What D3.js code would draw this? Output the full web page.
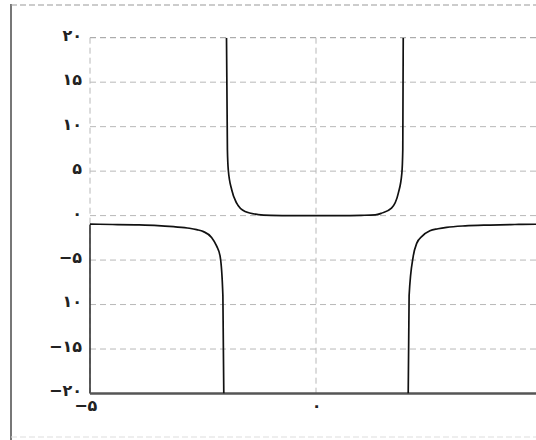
<!DOCTYPE html>
<html>
<head>
<meta charset="utf-8">
<script src="https://cdn.jsdelivr.net/npm/d3@7"></script>
<style>
  html, body { margin: 0; padding: 0; background: #fff; }
  svg { display: block; }
  .tick text { font-family: "DejaVu Sans", sans-serif; font-weight: bold; font-size: 16px; fill: #222; }
</style>
</head>
<body>
<svg id="chart" width="536" height="440"></svg>
<script>
// Tick values and their Persian labels
const xTicks = [-5, 0, 5];
const xLabelTicks = [-5, 0];
const xTickLabels = ["−۵", "۰"];
const yTicks = [20, 15, 10, 5, 0, -5, -10, -15, -20];
const yTickLabels = ["۲۰", "۱۵", "۱۰", "۵", "۰", "−۵", "۱۰", "−۱۵", "−۲۰"];

// Curve branches, separated by the vertical asymptotes near x = ±2
const leftX  = [-5, -4.5, -4, -3.5, -3.15, -2.8, -2.64, -2.49, -2.31, -2.2, -2.12, -2.06, -2.04];
const leftY  = [-0.95, -1.0, -1.04, -1.12, -1.25, -1.42, -1.58, -1.8, -2.45, -3.4, -4.6, -9.0, -20];

const midX   = [-1.98, -1.96, -1.94, -1.865, -1.755, -1.57, -1.28, -1.0, -0.5, 0, 0.5, 1.0, 1.31, 1.45, 1.67, 1.82, 1.90, 1.92, 1.93];
const midY   = [20, 7.4, 5.1, 2.9, 1.39, 0.45, 0.12, 0.03, 0, 0, 0, 0.03, 0.08, 0.27, 0.83, 2.5, 4.8, 7.4, 20];

const rightX = [2.04, 2.06, 2.15, 2.23, 2.35, 2.52, 2.7, 2.89, 3.3, 3.85, 4.4, 4.87, 5.0];
const rightY = [-20, -9.0, -4.6, -3.1, -2.3, -1.7, -1.48, -1.32, -1.15, -1.06, -1.0, -0.97, -0.96];

const svg = d3.select("#chart");

const x = d3.scaleLinear().domain([-5, 5]).range([90, 542]);
const y = d3.scaleLinear().domain([-20, 20]).range([393.5, 37.7]);

// Outer frame: solid left edge, dashed top and bottom edges
svg.append("line").attr("x1", 11).attr("x2", 11).attr("y1", 4).attr("y2", 440)
  .attr("stroke", "#555").attr("stroke-width", 1.6);
svg.append("line").attr("x1", 11).attr("x2", 536).attr("y1", 5).attr("y2", 5)
  .attr("stroke", "#999").attr("stroke-width", 1.2).attr("stroke-dasharray", "6,3");
svg.append("line").attr("x1", 11).attr("x2", 536).attr("y1", 437).attr("y2", 437)
  .attr("stroke", "#ddd").attr("stroke-width", 1).attr("stroke-dasharray", "6,3");

// Grid lines
const grid = svg.append("g").attr("stroke", "#b8b8b8").attr("stroke-width", 1)
  .attr("stroke-dasharray", "6,4").attr("fill", "none");
grid.selectAll("line.h").data(yTicks.filter(v => v > -20)).join("line")
  .attr("class", "h")
  .attr("x1", x(-5)).attr("x2", x(5))
  .attr("y1", d => y(d)).attr("y2", d => y(d))
  .attr("stroke", d => d === 20 ? "#999" : "#b8b8b8");
grid.selectAll("line.v").data(xTicks).join("line")
  .attr("class", "v")
  .attr("x1", d => x(d)).attr("x2", d => x(d))
  .attr("y1", y(20)).attr("y2", y(-20));

// Axes with Persian tick labels
const yAxis = d3.axisLeft(y).tickValues(yTicks).tickSize(0).tickPadding(8)
  .tickFormat((d, i) => yTickLabels[i]);
svg.append("g").attr("transform", `translate(${x(-5)},0)`).call(yAxis)
  .call(g => g.select(".domain").remove())
  .call(g => g.selectAll("text").attr("dy", "0.15em"));

const xAxis = d3.axisBottom(x).tickValues(xLabelTicks).tickSize(0).tickPadding(6)
  .tickFormat((d, i) => xTickLabels[i]);
svg.append("g").attr("transform", `translate(0,${y(-20)})`).call(xAxis)
  .call(g => g.select(".domain").remove())
  .call(g => g.selectAll("text").attr("dx", d => d === -5 ? "-0.3em" : 0));

// Spines
svg.append("line").attr("x1", x(-5)).attr("x2", x(-5)).attr("y1", y(-1)).attr("y2", y(-20))
  .attr("stroke", "#333").attr("stroke-width", 1.6);
svg.append("line").attr("x1", x(-5)).attr("x2", x(5)).attr("y1", y(-20)).attr("y2", y(-20))
  .attr("stroke", "#555").attr("stroke-width", 2.4);

// Curve
svg.append("defs").append("clipPath").attr("id", "plot-clip")
  .append("rect").attr("x", x(-5)).attr("y", y(20))
  .attr("width", x(5) - x(-5)).attr("height", y(-20) - y(20));

const line = d3.line().x(d => x(d[0])).y(d => y(d[1])).curve(d3.curveMonotoneX);
const branches = [
  d3.zip(leftX, leftY),
  d3.zip(midX, midY),
  d3.zip(rightX, rightY)
];
svg.append("g").attr("clip-path", "url(#plot-clip)")
  .selectAll("path").data(branches).join("path")
  .attr("d", line)
  .attr("fill", "none").attr("stroke", "#111").attr("stroke-width", 1.7);
</script>
</body>
</html>
